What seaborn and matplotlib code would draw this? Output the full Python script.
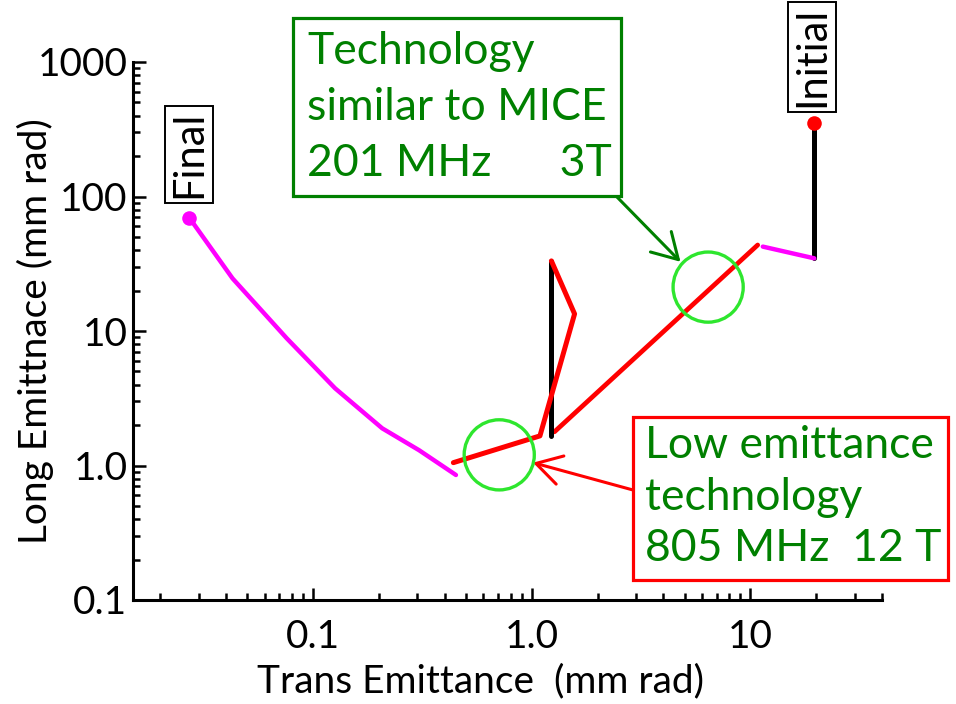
import matplotlib.pyplot as plt
import seaborn as sns
from matplotlib.patches import Rectangle

# cooling path (trans / long emittance, mm rad)
initial_x, initial_y = [19.6], [354]
final_x, final_y = [0.027], [69]

drop_x, drop_y = [19.6, 19.6], [354, 34.7]          # black drop after start
front_x, front_y = [19.6, 11.4], [34.7, 42.4]       # magenta front end
cool1_x, cool1_y = [10.8, 1.27], [43.6, 1.78]       # red, 201 MHz cooling
bunch_x, bunch_y = [1.23, 1.23], [1.66, 33.2]       # black rebunch
cool2_x = [1.23, 1.57, 1.09, 0.438]
cool2_y = [33.2, 13.4, 1.66, 1.05]
last_x = [0.45, 0.305, 0.207, 0.126, 0.0757, 0.0428, 0.0272]
last_y = [0.85, 1.30, 1.89, 3.75, 8.83, 24.6, 69.2]

circle_x, circle_y = [6.41, 0.71], [21.2, 1.20]
tip_x, tip_y = [4.79, 1.013], [32.7, 1.05]

xticks = [0.1, 1.0, 10]
xtick_labels = ['0.1', '1.0', '10']
yticks = [0.1, 1, 10, 100, 1000]
ytick_labels = ['0.1', '1.0', '10', '100', '1000']

W, H = 956, 704

sns.set_style('ticks')
plt.rcParams['font.family'] = ['Lato', 'DejaVu Sans']
for k in ['text.color', 'axes.labelcolor', 'xtick.color', 'ytick.color', 'axes.edgecolor']:
    plt.rcParams[k] = 'black'

fig = plt.figure(figsize=(W / 100, H / 100), dpi=100)
ax = fig.add_axes([133 / W, 1 - 600 / H, (882 - 133) / W, (600 - 62) / H])
ax.set_xscale('log')
ax.set_yscale('log')

kw = dict(sort=False, estimator=None, ax=ax)
sns.lineplot(x=drop_x, y=drop_y, color='black', lw=3.6, **kw)
sns.lineplot(x=front_x, y=front_y, color='#ff00ff', lw=3.2, **kw)
sns.lineplot(x=cool1_x, y=cool1_y, color='#ff0000', lw=3.4, **kw)
sns.lineplot(x=bunch_x, y=bunch_y, color='black', lw=3.6, **kw)
sns.lineplot(x=cool2_x, y=cool2_y, color='#ff0000', lw=3.6, **kw)
sns.lineplot(x=last_x, y=last_y, color='#ff00ff', lw=3.2, **kw)

sns.scatterplot(x=initial_x, y=initial_y, color='#ff0000', s=110, linewidth=0, ax=ax, zorder=5)
sns.scatterplot(x=final_x, y=final_y, color='#ff00ff', s=110, linewidth=0, ax=ax, zorder=5)

# green rings round the two technology points
ax.scatter(circle_x, circle_y, s=2550, facecolors='none', edgecolors='#2ee62e', linewidths=2.4, zorder=6)

ax.set_xlim(0.015, 40)
ax.set_ylim(0.1, 1000)
ax.set_xticks(xticks, labels=xtick_labels)
ax.set_yticks(yticks, labels=ytick_labels)
sns.despine(ax=ax)
for side in ['left', 'bottom']:
    ax.spines[side].set_linewidth(2.2)
ax.tick_params(which='major', direction='in', length=9, width=1.8, labelsize=28)
ax.tick_params(which='minor', direction='in', length=5, width=1.8)
ax.tick_params(axis='x', which='major', pad=14)
ax.tick_params(axis='y', which='major', pad=4)

ax.set_xlabel('Trans Emittance  (mm rad)', fontsize=28)
ax.set_ylabel('Long Emittnace (mm rad)', fontsize=28)
ax.xaxis.set_label_coords(0.4646, -0.117)
ax.yaxis.set_label_coords(-0.105, 0.5)

lbl_box = dict(boxstyle='square,pad=0.12', fc='white', ec='black', lw=1.4)
ax.annotate('Final', xy=(final_x[0], final_y[0]), xytext=(0, 46), textcoords='offset points',
            rotation=90, ha='center', va='center', fontsize=30, bbox=lbl_box)
ax.annotate('Initial', xy=(initial_x[0], initial_y[0]), xytext=(-1.5, 47), textcoords='offset points',
            rotation=90, ha='center', va='center', fontsize=30, bbox=lbl_box, annotation_clip=False)

# callout boxes
def box(x0, y0, x1, y1, color):
    fig.add_artist(Rectangle((x0 / W, 1 - y1 / H), (x1 - x0) / W, (y1 - y0) / H,
                             transform=fig.transFigure, fc='white', ec=color, lw=2.3, zorder=10))

box(293, 18, 621, 196, 'green')
fig.text(307 / W, 1 - 31 / H, 'Technology\nsimilar to MICE\n201 MHz      3T', color='green',
         fontsize=32, va='top', ha='left', linespacing=1.45, zorder=11)
box(633, 417, 948, 580, '#ff0000')
fig.text(645 / W, 1 - 425 / H, 'Low emittance\ntechnology\n805 MHz  12 T', color='green',
         fontsize=32, va='top', ha='left', linespacing=1.32, zorder=11)

ax.annotate('', xy=(tip_x[0], tip_y[0]), xytext=(617, H - 197), textcoords='figure pixels',
            arrowprops=dict(arrowstyle='->,head_length=0.6,head_width=0.35', color='green', lw=2.2,
                            mutation_scale=30, shrinkA=0, shrinkB=0))
ax.annotate('', xy=(tip_x[1], tip_y[1]), xytext=(633, H - 490), textcoords='figure pixels',
            arrowprops=dict(arrowstyle='->,head_length=0.6,head_width=0.35', color='#ff0000', lw=2.2,
                            mutation_scale=30, shrinkA=0, shrinkB=0))

fig.savefig('out.png', dpi=100)
